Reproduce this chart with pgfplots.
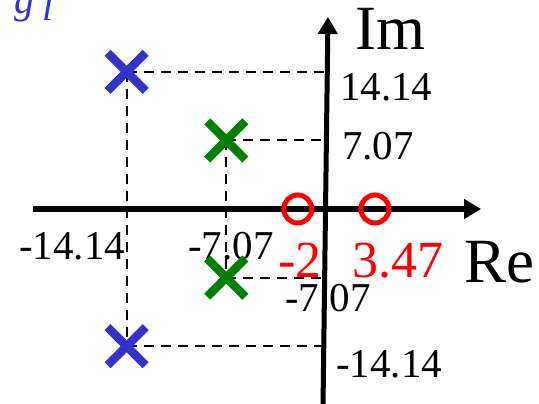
\documentclass[border=0pt]{standalone}
\usepackage{pgfplots}
\pgfplotsset{compat=1.18}
\usepackage{fontspec}
\setmainfont{Liberation Serif}
\usetikzlibrary{arrows.meta}
\definecolor{poleblue}{RGB}{51,51,204}
\definecolor{polegreen}{RGB}{0,128,0}
\definecolor{zerored}{RGB}{255,0,0}
\newcommand\fs[1]{\fontsize{#1}{#1}\selectfont}
\begin{document}
\begin{tikzpicture}
% labels (under the axes)
\begin{scope}[every node/.style={inner sep=0pt, anchor=base west}]
  \node at (355bp,354bp) {\fs{63bp}Im};
  \node at (464bp,121bp) {\fs{63bp}Re};
  \node at (340bp,303bp) {\fs{41bp}14.14};
  \node at (342bp,244bp) {\fs{41bp}7.07};
  \node at (19bp,144bp)  {\fs{41bp}-14.14};
  \node at (188bp,144bp) {\fs{41bp}-7.07};
  \node at (285bp,92bp)  {\fs{41bp}-7.07};
  \node at (336bp,27bp)  {\fs{41bp}-14.14};
  \node[text=zerored] at (278bp,126bp) {\fs{52bp}-2};
  \node[text=zerored] at (352bp,126bp) {\fs{52bp}3.47};
\end{scope}
\node[inner sep=0pt, anchor=south, text=poleblue] at (24bp,382bp) {\fs{40bp}\itshape g};
\node[inner sep=0pt, anchor=south, text=poleblue] at (48bp,383bp) {\fs{40bp}\itshape l};

\begin{axis}[
  x=14.1bp, y=9.7bp,
  xmin=-20.8, xmax=11, ymin=-20.1, ymax=19.8,
  hide axis, clip=false,
  at={(326bp,195bp)}, anchor=origin,
]
  % guide lines from the poles to the axes
  \addplot[black, line width=2bp, dash pattern=on 10bp off 7bp]
    coordinates {(-14.14,14.14) (0,14.14)};
  \addplot[black, line width=2bp, dash pattern=on 10bp off 7bp]
    coordinates {(-14.14,-14.14) (0,-14.14)};
  \addplot[black, line width=2bp, dash pattern=on 10bp off 7bp]
    coordinates {(-14.14,14.14) (-14.14,-14.14)};
  \addplot[black, line width=2bp, dash pattern=on 10bp off 7bp]
    coordinates {(-7.07,7.07) (0,7.07)};
  \addplot[black, line width=2bp, dash pattern=on 10bp off 7bp]
    coordinates {(-7.07,-7.07) (0,-7.07)};
  \addplot[black, line width=2bp, dash pattern=on 10bp off 7bp]
    coordinates {(-7.07,7.07) (-7.07,-7.07)};
  % real and imaginary axes
  \draw[line width=6bp, -{Triangle[length=17bp,width=19bp]}]
    (axis cs:-20.8,0) -- (axis cs:11,0);
  \draw[line width=5bp, -{Triangle[length=17bp,width=19bp]}]
    (axis cs:-0.21,-20.1) -- (axis cs:0.14,19.8);
  % poles
  \addplot[only marks, mark=x, color=poleblue,
    mark options={solid, line width=8.5bp, mark size=27bp}]
    coordinates {(-14.14,14.14) (-14.14,-14.14)};
  \addplot[only marks, mark=x, color=polegreen,
    mark options={solid, line width=8.5bp, mark size=27bp}]
    coordinates {(-7.07,7.07) (-7.07,-7.07)};
  % zeros
  \addplot[only marks, mark=o, color=zerored,
    mark options={solid, line width=5bp, mark size=14bp}]
    coordinates {(-2,0) (3.47,0)};
\end{axis}
\pgfresetboundingbox
\useasboundingbox (0,0) rectangle (539bp,404bp);
\end{tikzpicture}
\end{document}
